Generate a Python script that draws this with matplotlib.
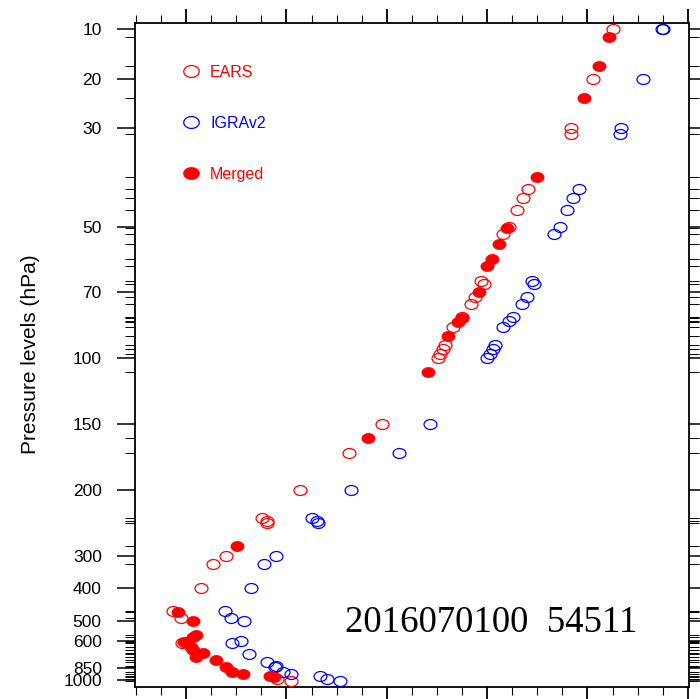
import numpy as np
import matplotlib.pyplot as plt
from matplotlib.path import Path
from matplotlib.transforms import Affine2D

# labelled pressure levels and where the original (NCL) axis puts them
level_ticks = [10, 20, 30, 50, 70, 100, 150, 200, 300, 400, 500, 600, 850, 1000]
level_pos = [29.3, 78.7, 127.7, 226.7, 292.3, 358, 423.7, 490, 556, 588.3, 621.3, 641.3, 667.7, 680]

# EARS sounding
ears_x = [4.25, 4.054, 3.832, 3.832, 3.409, 3.354, 3.294, 3.217, 3.160, 2.935, 2.968,
          2.878, 2.839, 2.752, 2.662, 2.580, 2.557, 2.530, 2.507, 1.949, 1.624, 1.135,
          0.757, 0.810, 0.804, 0.395, 0.272, 0.146, -0.126, -0.053, -0.043, 0.903, 1.046]
ears_p = [10, 20, 30, 31, 41.2, 43.2, 45.9, 50, 51.9, 66, 67.2,
          71.7, 74.6, 80.2, 84.4, 93.2, 95.4, 97.8, 100, 150, 170, 200,
          237, 242, 244.5, 300, 322, 400, 465.5, 490, 611, 987, 1009]

# IGRA v2 sounding
igra_x = [4.743, 4.753, 4.555, 4.333, 4.323, 3.914, 3.858, 3.798, 3.725, 3.665, 3.443,
          3.466, 3.393, 3.344, 3.254, 3.217, 3.160, 3.078, 3.055, 3.028, 3.001, 2.430,
          2.122, 1.640, 1.258, 1.308, 1.318, 0.896, 0.777, 0.647, 0.388, 0.445, 0.578,
          0.545, 0.455, 0.627, 0.810, 0.893, 0.886, 0.969, 1.046, 1.335, 1.401, 1.534]
igra_p = [10, 10, 20, 30, 31, 41.2, 43.2, 45.9, 50, 51.9, 66,
          67.2, 71.7, 74.6, 79.9, 81.7, 84.4, 93.2, 95.4, 97.8, 100, 150,
          170, 200, 237, 242, 244.5, 300, 322, 400, 465.5, 490, 500,
          597, 611, 709, 785, 831, 845, 896, 924, 949, 987, 1009]

# merged profile
merged_x = [4.210, 4.114, 3.964, 3.499, 3.194, 3.115, 3.051, 2.995, 2.918, 2.746, 2.712,
            2.613, 2.413, 1.810, 0.505, -0.083, 0.073, 0.100, 0.073, 0.013, -0.025,
            0.047, 0.073, 0.172, 0.100, 0.299, 0.398, 0.455, 0.565, 0.837, 0.876]
merged_p = [11.1, 16.7, 23.4, 38.6, 50.4, 54.7, 59, 61.2, 70, 80.6, 82.1,
            88.6, 109.2, 159.4, 282.2, 470.4, 500, 566.5, 578.5, 603, 603,
            649, 673, 703, 735, 768, 845, 896, 924, 949, 957]

scale_p = np.log10([5] + level_ticks + [2000])
scale_y = np.array([29.3 - 164 * 0.30103] + level_pos + [680 + 174 * 0.30103])


def fwd(p):
    p = np.clip(np.asarray(p, dtype=float), 1e-3, None)
    return np.interp(np.log10(p), scale_p, scale_y)


def inv(y):
    return 10 ** np.interp(np.asarray(y, dtype=float), scale_y, scale_p)


ellipse = Path(Affine2D().scale(1.3, 1.0).transform_path(Path.unit_circle()).vertices,
               Path.unit_circle().codes)

fig = plt.figure(figsize=(7.0, 6.99), dpi=100)
ax = fig.add_axes([0.193, 0.0176, 0.791, 0.950])

ax.plot(ears_x, ears_p, ls='none', marker=ellipse, ms=9.3, mfc='none', mec='red',
        mew=0.9, label='EARS', zorder=3)
ax.plot(igra_x, igra_p, ls='none', marker=ellipse, ms=9.3, mfc='none', mec='blue',
        mew=0.9, label='IGRAv2', zorder=3)
ax.plot(merged_x, merged_p, ls='none', marker=ellipse, ms=9.5, mfc='red', mec='red',
        mew=0.5, label='Merged', zorder=4)

ax.set_yscale('function', functions=(fwd, inv))
ax.set_ylim(inv(686.7), inv(22.7))
ax.set_xlim(-0.508, 5.01)

ax.set_yticks(level_ticks)
ax.set_yticklabels([str(v) for v in level_ticks])
minor_levels = sorted(set(ears_p + igra_p + merged_p) - set(level_ticks))
ax.set_yticks(minor_levels, minor=True)
ax.set_yticklabels([], minor=True)
ax.set_xticks(np.arange(0, 6))
ax.set_xticks(np.arange(-0.5, 5.01, 0.25), minor=True)
ax.set_xticklabels([])

ax.tick_params(axis='y', which='major', direction='out', length=13, width=1.1,
               left=True, right=True, pad=11, labelsize=12.5)
ax.tick_params(axis='y', which='minor', direction='out', length=7, width=0.7,
               left=True, right=True)
ax.tick_params(axis='x', which='major', direction='out', length=10, width=1.3,
               top=True, bottom=True)
ax.tick_params(axis='x', which='minor', direction='out', length=5.5, width=0.8,
               top=True, bottom=True)
for lab in ax.get_yticklabels():
    lab.set_family(['Liberation Sans', 'DejaVu Sans'])
for sp in ax.spines.values():
    sp.set_linewidth(1.3)

ax.set_ylabel('Pressure levels (hPa)', fontsize=15,
              family=['Liberation Sans Narrow', 'Liberation Sans', 'DejaVu Sans'], labelpad=17)

leg = ax.legend(loc='upper left', bbox_to_anchor=(0.072, 0.949), frameon=False,
                markerscale=1.2, labelspacing=2.27, handletextpad=0.7, handlelength=1.0,
                borderpad=0, prop={'family': 'Liberation Sans', 'size': 11.5})
for txt, col in zip(leg.get_texts(), ['red', 'blue', 'red']):
    txt.set_color(col)

ax.text(0.644, 0.096, '2016070100  54511', transform=ax.transAxes, ha='center',
        va='center', fontsize=26.5, family=['Liberation Serif', 'DejaVu Serif'])

fig.savefig('out.png', dpi=100)
